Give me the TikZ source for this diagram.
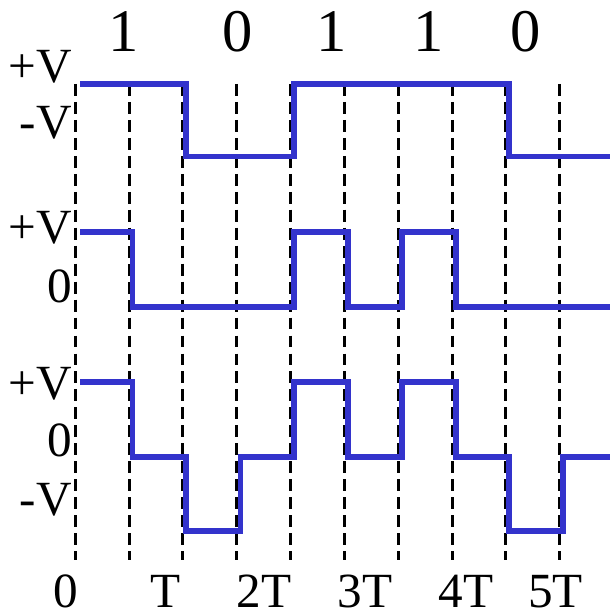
\documentclass[tikz,border=0pt]{standalone}
\usepackage{fontspec}
\setmainfont{Liberation Serif}
\usepackage{xcolor}
\usepackage{tikz}
\usetikzlibrary{positioning,calc}

\definecolor{sigblue}{RGB}{51,51,204}

\begin{document}
\begin{tikzpicture}[
    grid/.style={dash pattern=on 6.3pt off 3.2pt, line width=1.6pt, black},
    wave/.style={line width=3pt, sigblue},
    lvl/.style={anchor=east, inner sep=0pt, font=\fontsize{26}{26}\selectfont},
    bit/.style={inner sep=0pt, font=\fontsize{32}{32}\selectfont},
    tick/.style={inner sep=0pt, font=\fontsize{26}{26}\selectfont}
]
\useasboundingbox (0,0) rectangle (11.32,11.39);

% Bit slots
\foreach \k in {0,...,9}
    \draw[grid] ({1.40+\k},9.83) -- ({1.40+\k},0.98);

% Data bits
\node[bit] (b1) at (2.30,10.81) {1};
\node[bit] (b2) at (4.41,10.81) {0};
\node[bit] (b3) at (6.17,10.81) {1};
\node[bit] (b4) at (7.96,10.81) {1};
\node[bit] (b5) at (9.76,10.81) {0};

% Level labels
\node[lvl] (pv1) at (1.34,10.15) {+V};
\node[lvl] (mv1) at (1.34,9.11) {-V};
\node[lvl] (pv2) at (1.34,7.16) {+V};
\node[lvl] (z2) at (1.34,6.06) {0};
\node[lvl] (pv3) at (1.34,4.26) {+V};
\node[lvl] (z3) at (1.34,3.20) {0};
\node[lvl] (mv3) at (1.34,2.10) {-V};

% Time axis
\node[tick] (t0) at (1.23,0.40) {0};
\node[tick] (t1) at (3.07,0.40) {T};
\node[tick] (t2) at (4.91,0.40) {2T};
\node[tick] (t3) at (6.78,0.40) {3T};
\node[tick] (t4) at (8.66,0.40) {4T};
\node[tick] (t5) at (10.32,0.40) {5T};

% NRZ
\draw[wave] (1.49,9.83) -| (3.46,8.48) -| (5.46,9.83) -| (9.46,8.48) -- (11.40,8.48);

% Unipolar RZ
\draw[wave] (1.49,7.08) -| (2.46,5.69) -| (5.46,7.08) -| (6.46,5.69)
    -| (7.47,7.08) -| (8.47,5.69) -- (11.40,5.69);

% Bipolar RZ
\draw[wave] (1.49,4.29) -| (2.46,2.90) -| (3.46,1.52) -| (4.47,2.90)
    -| (5.46,4.29) -| (6.46,2.90) -| (7.47,4.29) -| (8.47,2.90)
    -| (9.46,1.52) -| (10.46,2.90) -- (11.40,2.90);
\end{tikzpicture}
\end{document}
